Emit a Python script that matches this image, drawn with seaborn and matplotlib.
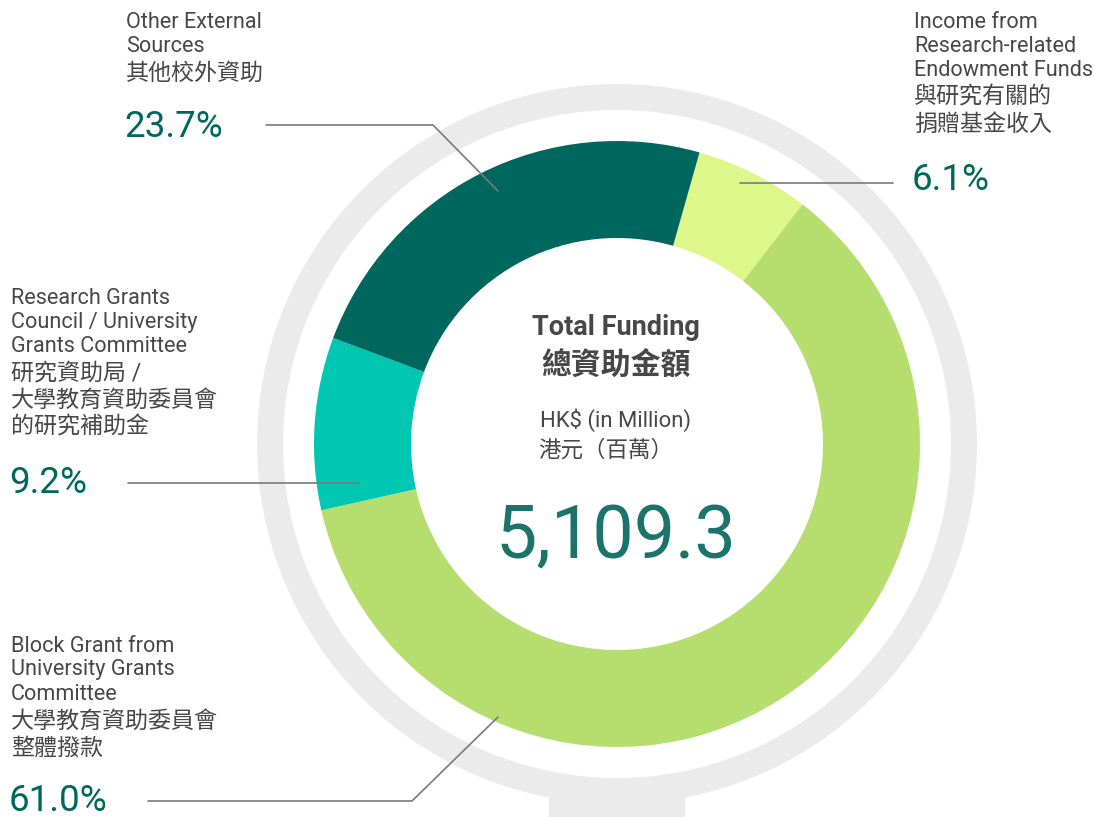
import matplotlib
matplotlib.use("Agg")
import matplotlib.pyplot as plt
import matplotlib.patches as mpatches
import seaborn as sns

# Data (percent share of total research funding)
categories = ["Income from Research-related Endowment Funds",
              "Block Grant from University Grants Committee",
              "Research Grants Council / University Grants Committee",
              "Other External Sources"]
shares = [6.1, 61.0, 9.2, 23.7]
pct_labels = ["6.1%", "61.0%", "9.2%", "23.7%"]
total_funding = "5,109.3"

label_lines = [
    ["Income from", "Research-related", "Endowment Funds"],
    ["Block Grant from", "University Grants", "Committee"],
    ["Research Grants", "Council / University", "Grants Committee"],
    ["Other External", "Sources"],
]
label_lines_zh = [
    ["與研究有關的", "捐贈基金收入"],
    ["大學教育資助委員會", "整體撥款"],
    ["研究資助局 /", "大學教育資助委員會", "的研究補助金"],
    ["其他校外資助"],
]

colors = ["#DDF78A", "#B5DE6F", "#00C7B1", "#00675E"]

sns.set_theme(style="white")
plt.rcParams['font.family'] = ['Roboto', 'Noto Sans CJK TC', 'DejaVu Sans']

W, H = 1095, 817
fig = plt.figure(figsize=(W / 100, H / 100), dpi=100)
ax = fig.add_axes([0, 0, 1, 1])

cx, cy = 617, H - 444

# grey magnifier ring + handle
ax.pie([1], colors=["#EBEBEB"], radius=360, center=(cx, cy),
       wedgeprops=dict(width=26, linewidth=0))
ax.add_patch(mpatches.Rectangle((549, 0), 136, H - 782, color="#EBEBEB",
                                lw=0, zorder=0.5))

# donut
ax.pie(shares, colors=colors, startangle=74.2, counterclock=False,
       radius=303, center=(cx, cy), wedgeprops=dict(width=97, linewidth=0))

ax.set_xlim(0, W)
ax.set_ylim(0, H)
ax.set_aspect('equal', adjustable='box')
ax.axis('off')

txt = "#474747"
pct_col = "#00675E"
line_col = "#7a7a7a"

# label anchors: (x, top line y, pct y)
anchors = [(914, 22, 180), (11, 646, 801), (11, 298, 483), (126, 22, 127)]

for (x, y0, yp), en, zh, p in zip(anchors, label_lines, label_lines_zh, pct_labels):
    y = y0
    for s in en:
        ax.text(x, H - y, s, fontsize=15.6, color=txt, va='center', ha='left')
        y += 24
    y += 3
    for s in zh:
        ax.text(x, H - y, s, fontsize=16.6, color=txt, va='center', ha='left')
        y += 27
    ax.text(x - 2, H - yp, p, fontsize=26.5, color=pct_col, va='center', ha='left')

# leader lines
leaders = [
    [(740, 183), (893, 183)],
    [(148, 801), (412, 801), (498, 717)],
    [(128, 483), (359, 483)],
    [(266, 125), (433, 125), (498, 191)],
]
for pts in leaders:
    xs = [p[0] for p in pts]
    ys = [H - p[1] for p in pts]
    ax.plot(xs, ys, color=line_col, lw=1.2, zorder=5)

# centre text
ax.text(616, H - 327, "Total Funding", fontsize=19.5, fontweight='bold',
        color=txt, ha='center', va='center')
ax.text(616, H - 366, "總資助金額", fontsize=21.5, fontweight='bold',
        color=txt, ha='center', va='center')
ax.text(616, H - 420, "HK$ (in Million)", fontsize=15.8, color=txt,
        ha='center', va='center')
ax.text(606, H - 451, "港元（百萬）", fontsize=16.2, color=txt,
        ha='center', va='center')
ax.text(616, H - 538, total_funding, fontsize=53, color="#1B746B",
        ha='center', va='center')

fig.savefig("out.png", dpi=100, facecolor="white")
